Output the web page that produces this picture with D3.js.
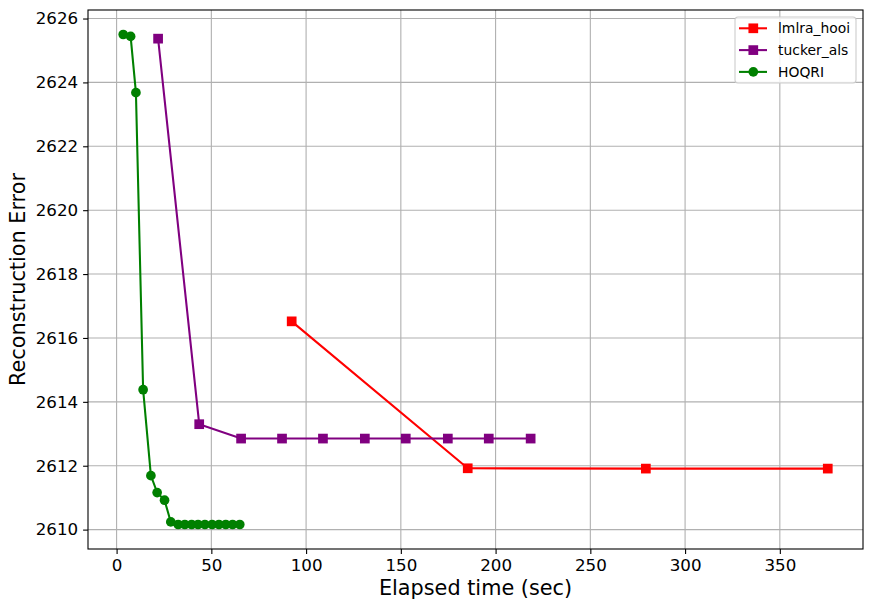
<!DOCTYPE html>
<html>
<head>
<meta charset="utf-8">
<script src="https://cdn.jsdelivr.net/npm/d3@7"></script>
<style>
  body { margin: 0; background: #fff; }
  svg { font-family: "DejaVu Sans", sans-serif; }
</style>
</head>
<body>
<div id="chart"></div>
<script>
// values
const lmlraTime = [92.4, 185.3, 279.3, 375.3];
const lmlraErr = [2616.52, 2611.92, 2611.91, 2611.91];

const tuckerTime = [21.9, 43.6, 65.7, 87.3, 108.9, 131.0, 152.6, 174.8, 196.4, 218.5];
const tuckerErr = [2625.37, 2613.30, 2612.85, 2612.85, 2612.85, 2612.85, 2612.85, 2612.85, 2612.85, 2612.85];

const hoqriTime = [3.5, 7.4, 10.2, 14.0, 18.1, 21.4, 25.3, 28.6, 32.5, 36.0, 39.6, 43.0, 46.6, 50.4, 54.0, 57.6, 61.2, 65.0];
const hoqriErr = [2625.50, 2625.44, 2623.68, 2614.38, 2611.69, 2611.16, 2610.92, 2610.24, 2610.16, 2610.16,
  2610.16, 2610.16, 2610.16, 2610.16, 2610.16, 2610.16, 2610.16, 2610.16];

const xTicks = [0, 50, 100, 150, 200, 250, 300, 350];
const yTicks = [2610, 2612, 2614, 2616, 2618, 2620, 2622, 2624, 2626];

const series = [
  { name: "lmlra_hooi", color: "red", marker: "square", x: lmlraTime, y: lmlraErr },
  { name: "tucker_als", color: "purple", marker: "square", x: tuckerTime, y: tuckerErr },
  { name: "HOQRI", color: "green", marker: "circle", x: hoqriTime, y: hoqriErr }
];

const width = 872, height = 609;
const margin = { top: 10, right: 9, bottom: 60, left: 88 };
const w = width - margin.left - margin.right;
const h = height - margin.top - margin.bottom;

const svg = d3.select("#chart").append("svg")
  .attr("width", width)
  .attr("height", height);

const g = svg.append("g").attr("transform", `translate(${margin.left},${margin.top})`);

// matplotlib style 5% padding
const allX = series.flatMap(s => s.x), allY = series.flatMap(s => s.y);
const [x0, x1] = d3.extent(allX), [y0, y1] = d3.extent(allY);
const px = (x1 - x0) * 0.05, py = (y1 - y0) * 0.05;

const x = d3.scaleLinear().domain([x0 - px, x1 + px]).range([0, w]);
const y = d3.scaleLinear().domain([y0 - py, y1 + py]).range([h, 0]);

// grid
g.append("g").selectAll("line").data(xTicks).join("line")
  .attr("x1", d => x(d)).attr("x2", d => x(d))
  .attr("y1", 0).attr("y2", h)
  .attr("stroke", "#b0b0b0").attr("stroke-width", 1.1);
g.append("g").selectAll("line").data(yTicks).join("line")
  .attr("y1", d => y(d)).attr("y2", d => y(d))
  .attr("x1", 0).attr("x2", w)
  .attr("stroke", "#b0b0b0").attr("stroke-width", 1.1);

// axes
const xAxis = g.append("g").attr("transform", `translate(0,${h})`)
  .call(d3.axisBottom(x).tickValues(xTicks).tickSize(4.9).tickPadding(4.9).tickFormat(d3.format("d")));
const yAxis = g.append("g")
  .call(d3.axisLeft(y).tickValues(yTicks).tickSize(4.9).tickPadding(4.9).tickFormat(d3.format("d")));
[xAxis, yAxis].forEach(a => {
  a.select(".domain").remove();
  a.selectAll("text").attr("font-size", 16.7).attr("fill", "#000").attr("font-family", "DejaVu Sans");
  a.selectAll("line").attr("stroke", "#000").attr("stroke-width", 1.1);
});

// lines and markers
const line = d3.line().x(d => x(d[0])).y(d => y(d[1]));
const ms = 9.7;
series.forEach(s => {
  const pts = s.x.map((v, i) => [v, s.y[i]]);
  g.append("path").datum(pts)
    .attr("d", line)
    .attr("fill", "none")
    .attr("stroke", s.color)
    .attr("stroke-width", 2.08);
  if (s.marker === "square") {
    g.append("g").selectAll("rect").data(pts).join("rect")
      .attr("x", d => x(d[0]) - ms / 2).attr("y", d => y(d[1]) - ms / 2)
      .attr("width", ms).attr("height", ms)
      .attr("fill", s.color);
  } else {
    g.append("g").selectAll("circle").data(pts).join("circle")
      .attr("cx", d => x(d[0])).attr("cy", d => y(d[1]))
      .attr("r", ms / 2)
      .attr("fill", s.color);
  }
});

// frame
g.append("rect").attr("width", w).attr("height", h)
  .attr("fill", "none").attr("stroke", "#000").attr("stroke-width", 1.1);

// axis labels
svg.append("text")
  .attr("x", margin.left + w / 2).attr("y", 595)
  .attr("text-anchor", "middle")
  .attr("font-size", 20.8)
  .text("Elapsed time (sec)");
svg.append("text")
  .attr("transform", `translate(25,${margin.top + h / 2}) rotate(-90)`)
  .attr("text-anchor", "middle")
  .attr("font-size", 20.8)
  .text("Reconstruction Error");

// legend
const lg = svg.append("g").attr("transform", "translate(735,17)");
lg.append("rect")
  .attr("width", 121).attr("height", 66).attr("rx", 3)
  .attr("fill", "#fff").attr("fill-opacity", 0.8)
  .attr("stroke", "#ccc").attr("stroke-width", 1.1);
series.forEach((s, i) => {
  const yy = 11.3 + i * 21.8;
  lg.append("line").attr("x1", 4).attr("x2", 32).attr("y1", yy).attr("y2", yy)
    .attr("stroke", s.color).attr("stroke-width", 2.08);
  if (s.marker === "square") {
    lg.append("rect").attr("x", 18.3 - ms / 2).attr("y", yy - ms / 2)
      .attr("width", ms).attr("height", ms).attr("fill", s.color);
  } else {
    lg.append("circle").attr("cx", 18.3).attr("cy", yy).attr("r", ms / 2).attr("fill", s.color);
  }
  lg.append("text").attr("x", 43).attr("y", yy + 5)
    .attr("font-size", 13.9)
    .text(s.name);
});
</script>
</body>
</html>
